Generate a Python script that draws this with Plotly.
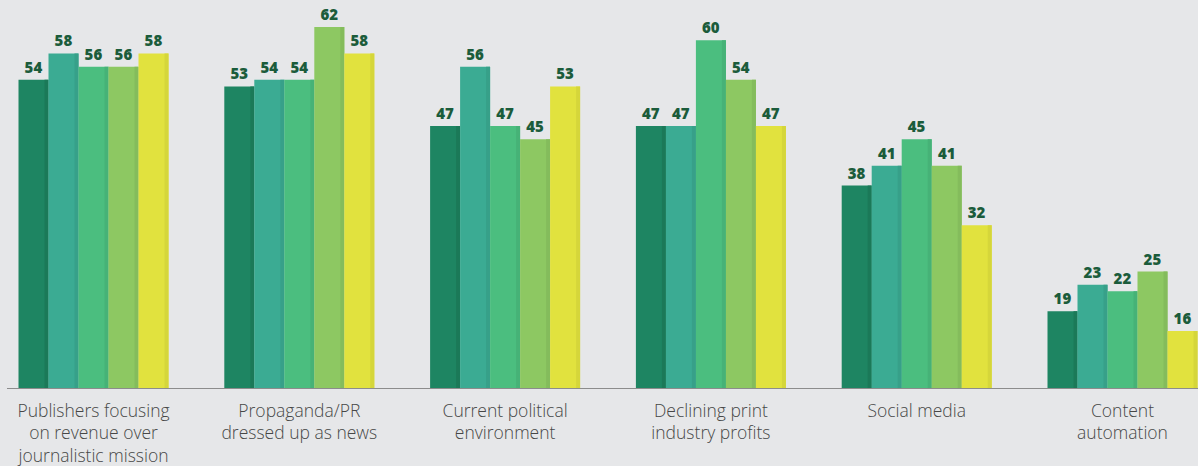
import plotly.graph_objects as go

categories = [
    "Publishers focusing<br>on revenue over<br>journalistic mission",
    "Propaganda/PR<br>dressed up as news",
    "Current political<br>environment",
    "Declining print<br>industry profits",
    "Social media",
    "Content<br>automation",
]
series_a = [54, 53, 47, 47, 38, 19]
series_b = [58, 54, 56, 47, 41, 23]
series_c = [56, 54, 47, 60, 45, 22]
series_d = [56, 62, 45, 54, 41, 25]
series_e = [58, 58, 53, 47, 32, 16]

all_series = [series_a, series_b, series_c, series_d, series_e]
fills = ["#1e8562", "#3bab93", "#4bbe7f", "#8dc862", "#e1e23e"]
edges = ["#1b7958", "#37a089", "#46b277", "#84bc5c", "#d5d63a"]

W, H = 1198, 466
group_step = 205.8          # px between category centres
first_centre = 93.5         # px of first category centre
bar_w = 30 / group_step     # bar width in category units
edge_w = 4 / group_step     # darker right-hand strip

x_idx = list(range(len(categories)))

fig = go.Figure()
for i, (vals, fc, ec) in enumerate(zip(all_series, fills, edges)):
    off = -2.5 * bar_w + i * bar_w
    fig.add_trace(go.Bar(
        x=x_idx, y=vals, width=bar_w, offset=off,
        marker=dict(color=fc, line=dict(width=0)),
        text=[str(v) for v in vals], textposition="outside",
        textfont=dict(family="Open Sans", size=15, color="#1b5c3b", weight=800),
        cliponaxis=False, showlegend=False, hoverinfo="skip",
    ))
    fig.add_trace(go.Bar(
        x=x_idx, y=vals, width=edge_w, offset=off + bar_w - edge_w,
        marker=dict(color=ec, line=dict(width=0)),
        showlegend=False, hoverinfo="skip",
    ))

y_lo = 7.23
y_hi = 66.08
plot_bottom = 389

fig.update_layout(
    width=W, height=H,
    margin=dict(l=0, r=0, t=0, b=H - plot_bottom),
    barmode="overlay",
    paper_bgcolor="#e6e7e9",
    plot_bgcolor="#e6e7e9",
    xaxis=dict(
        range=[-first_centre / group_step, (W - first_centre) / group_step],
        tickmode="array", tickvals=x_idx, ticktext=categories,
        showgrid=False, zeroline=False, showline=False, ticks="",
        tickfont=dict(family="Open Sans", size=17.5, color="#474747", weight=300),
        ticklabelstandoff=9,
    ),
    yaxis=dict(range=[y_lo, y_hi], visible=False),
    shapes=[dict(type="line", xref="paper", yref="y",
                 x0=7 / W, x1=1, y0=y_lo, y1=y_lo,
                 line=dict(color="#8c8c8c", width=2))],
)

fig.write_html("out.html")
